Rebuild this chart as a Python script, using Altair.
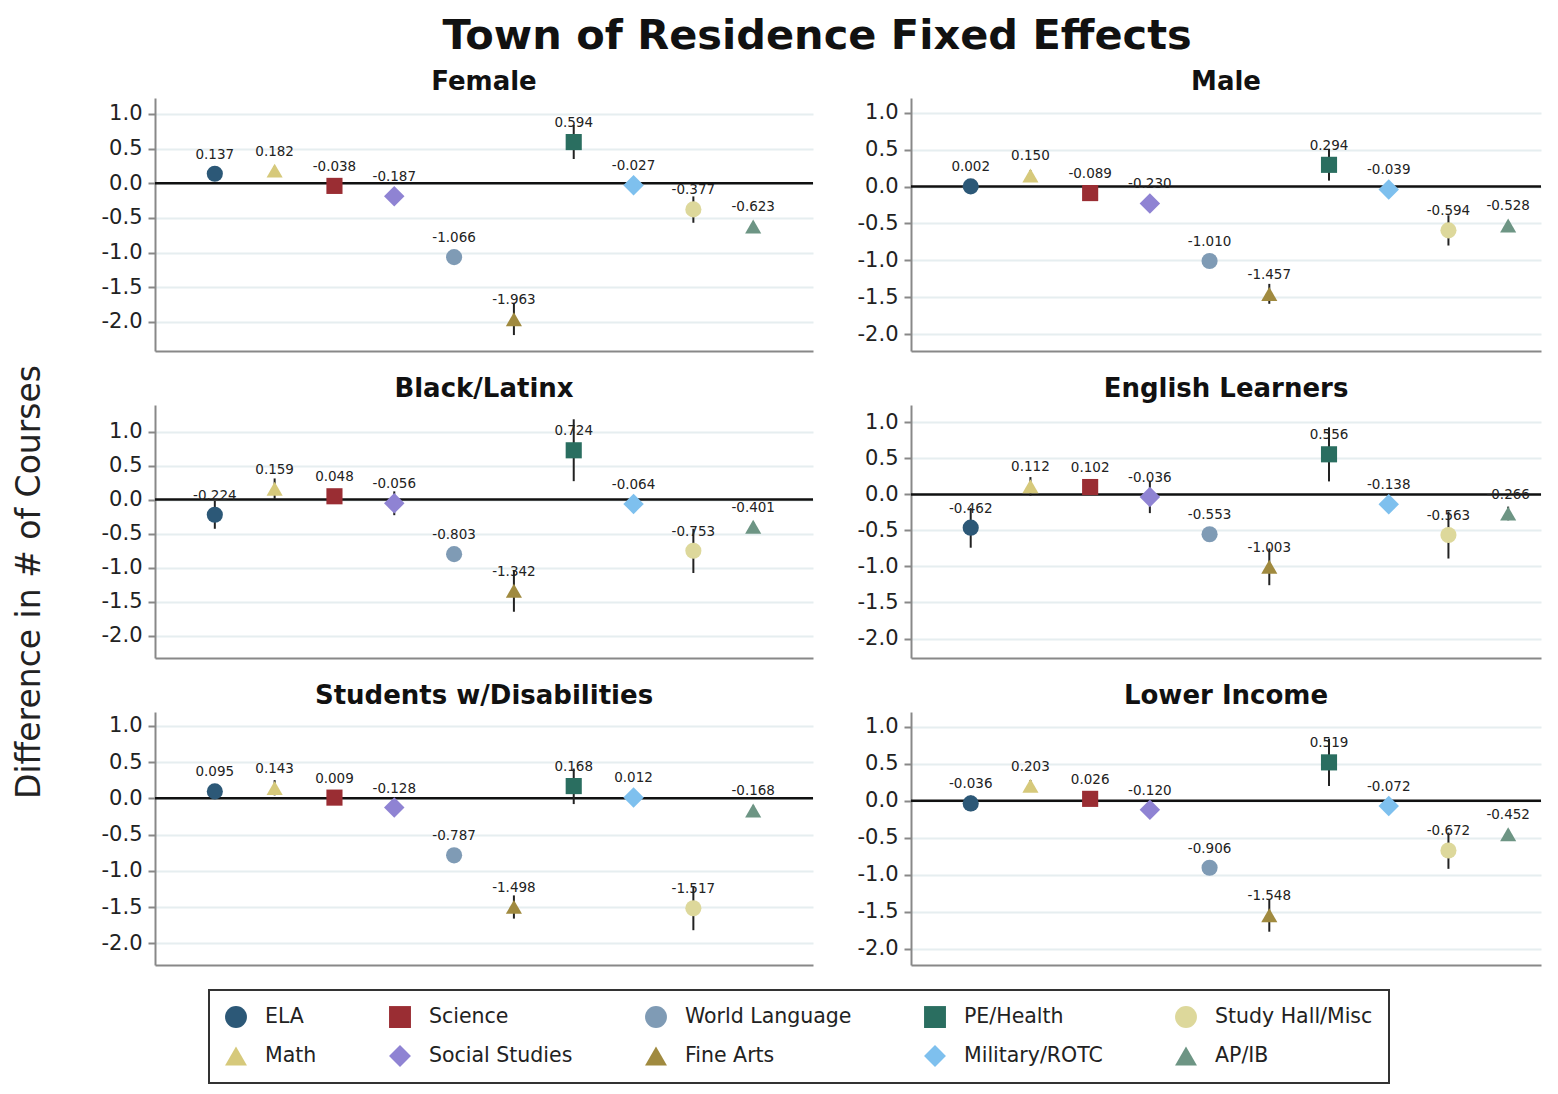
import altair as alt
import pandas as pd

FONT = "DejaVu Sans"

CATEGORIES = ["ELA", "Math", "Science", "Social Studies", "World Language",
              "Fine Arts", "PE/Health", "Military/ROTC", "Study Hall/Misc", "AP/IB"]
COLORS = ["#2c5877", "#d6c97b", "#9a2d33", "#8f83d3", "#7f9bb5",
          "#a08a3f", "#2a6e60", "#7ec0ee", "#ddd89b", "#6d9584"]
SHAPES = ["circle", "triangle-up", "square", "diamond", "circle",
          "triangle-up", "square", "diamond", "circle", "triangle-up"]

PANELS = ["Female", "Male", "Black/Latinx", "English Learners",
          "Students w/Disabilities", "Lower Income"]

FEMALE_EST = [0.137, 0.182, -0.038, -0.187, -1.066, -1.963, 0.594, -0.027, -0.377, -0.623]
FEMALE_LO = [0.07, 0.12, -0.10, -0.26, -1.13, -2.19, 0.35, -0.09, -0.57, -0.69]
FEMALE_HI = [0.20, 0.25, 0.02, -0.11, -1.00, -1.74, 0.84, 0.04, -0.19, -0.56]

MALE_EST = [0.002, 0.150, -0.089, -0.230, -1.010, -1.457, 0.294, -0.039, -0.594, -0.528]
MALE_LO = [-0.06, 0.08, -0.15, -0.30, -1.07, -1.59, 0.08, -0.10, -0.80, -0.59]
MALE_HI = [0.07, 0.22, -0.03, -0.16, -0.95, -1.32, 0.51, 0.02, -0.39, -0.47]

BL_EST = [-0.224, 0.159, 0.048, -0.056, -0.803, -1.342, 0.724, -0.064, -0.753, -0.401]
BL_LO = [-0.43, 0.01, -0.02, -0.23, -0.87, -1.65, 0.27, -0.13, -1.08, -0.47]
BL_HI = [-0.02, 0.31, 0.12, 0.12, -0.74, -1.04, 1.18, 0.00, -0.43, -0.33]

EL_EST = [-0.462, 0.112, 0.102, -0.036, -0.553, -1.003, 0.556, -0.138, -0.563, -0.266]
EL_LO = [-0.74, -0.02, 0.02, -0.26, -0.62, -1.26, 0.18, -0.21, -0.89, -0.36]
EL_HI = [-0.19, 0.24, 0.18, 0.19, -0.49, -0.75, 0.93, -0.07, -0.24, -0.17]

SWD_EST = [0.095, 0.143, 0.009, -0.128, -0.787, -1.498, 0.168, 0.012, -1.517, -0.168]
SWD_LO = [0.02, 0.04, -0.06, -0.20, -0.86, -1.66, -0.08, -0.05, -1.82, -0.24]
SWD_HI = [0.17, 0.25, 0.08, -0.06, -0.72, -1.34, 0.41, 0.08, -1.21, -0.10]

LI_EST = [-0.036, 0.203, 0.026, -0.120, -0.906, -1.548, 0.519, -0.072, -0.672, -0.452]
LI_LO = [-0.14, 0.13, -0.04, -0.23, -0.97, -1.77, 0.20, -0.14, -0.92, -0.52]
LI_HI = [0.07, 0.28, 0.09, -0.01, -0.84, -1.33, 0.84, -0.01, -0.43, -0.39]

PANEL_DATA = [
    (FEMALE_EST, FEMALE_LO, FEMALE_HI),
    (MALE_EST, MALE_LO, MALE_HI),
    (BL_EST, BL_LO, BL_HI),
    (EL_EST, EL_LO, EL_HI),
    (SWD_EST, SWD_LO, SWD_HI),
    (LI_EST, LI_LO, LI_HI),
]
Y_DOMAINS = [[-2.42, 1.23], [-2.23, 1.20], [-2.33, 1.39],
             [-2.27, 1.24], [-2.30, 1.19], [-2.22, 1.20]]
Y_TICKS = [-2.0, -1.5, -1.0, -0.5, 0.0, 0.5, 1.0]

TITLE = "Town of Residence Fixed Effects"
Y_TITLE = "Difference in # of Courses"

color_scale = alt.Scale(domain=CATEGORIES, range=COLORS)
shape_scale = alt.Scale(domain=CATEGORIES, range=SHAPES)
DIAMONDS = [c for c, s in zip(CATEGORIES, SHAPES) if s == "diamond"]

legend = alt.Legend(title=None, orient="none", legendX=194, legendY=892, columns=5,
                    symbolSize=480, labelFontSize=20.5, labelFont=FONT, labelColor="#222",
                    labelLimit=400, columnPadding=72, rowPadding=17, padding=16,
                    labelOffset=18, symbolStrokeWidth=0, strokeColor="#333")

H = 253


def panel(idx, width, xmax):
    est, lo, hi = PANEL_DATA[idx]
    df = pd.DataFrame({
        "cat": CATEGORIES,
        "pos": list(range(1, len(CATEGORIES) + 1)),
        "est": est,
        "lo": lo,
        "hi": hi,
        "lab": [f"{v:.3f}" for v in est],
    })
    xs = alt.Scale(domain=[0, xmax], nice=False, zero=False)
    ys = alt.Scale(domain=Y_DOMAINS[idx], nice=False, zero=False)
    x_enc = alt.X("pos:Q", scale=xs,
                  axis=alt.Axis(title=None, labels=False, ticks=False, grid=False,
                                domain=True, domainColor="#888", domainWidth=2))
    base = alt.Chart(df)
    zero = alt.Chart(pd.DataFrame({"z": [0.0]})).mark_rule(
        color="#111", strokeWidth=2.5).encode(
        y=alt.Y("z:Q", scale=ys,
                axis=alt.Axis(title=None, values=Y_TICKS,
                              labelExpr="replace(format(datum.value, '.1f'), '\u2212', '-')",
                              labelFont=FONT, labelFontSize=21, labelColor="#222",
                              labelPadding=6, tickSize=7, tickColor="#888", tickWidth=2,
                              domainColor="#888", domainWidth=2,
                              grid=True, gridColor="#e6eef0", gridWidth=2)))
    err = base.mark_rule(color="#222", strokeWidth=2).encode(
        x=x_enc, y=alt.Y("lo:Q", scale=ys), y2="hi:Q")
    enc = dict(
        x=x_enc,
        y=alt.Y("est:Q", scale=ys),
        color=alt.Color("cat:N", scale=color_scale, legend=legend),
        shape=alt.Shape("cat:N", scale=shape_scale, legend=legend),
    )
    pts = base.transform_filter(
        ~alt.FieldOneOfPredicate(field="cat", oneOf=DIAMONDS)
    ).mark_point(filled=True, size=260, opacity=1).encode(**enc)
    dia = base.transform_filter(
        alt.FieldOneOfPredicate(field="cat", oneOf=DIAMONDS)
    ).mark_point(filled=True, size=420, opacity=1).encode(**enc)
    txt = base.mark_text(font=FONT, fontSize=13.5, color="#222", dy=-19,
                         baseline="middle").encode(
        x=x_enc, y=alt.Y("est:Q", scale=ys), text="lab:N")
    return alt.layer(zero, err, pts, dia, txt).properties(
        width=width, height=H,
        title=alt.TitleParams(PANELS[idx], font=FONT, fontSize=26, fontWeight="bold",
                              color="#111", anchor="middle", offset=3),
    )


rows = []
for r in range(3):
    left = panel(2 * r, 658, 11)
    right = panel(2 * r + 1, 630, 10.55)
    rows.append(alt.hconcat(left, right, spacing=42))

grid = alt.vconcat(*rows, spacing=25)

ytitle = alt.Chart(alt.Data(values=[{"t": Y_TITLE}])).mark_text(
    angle=270, font=FONT, fontSize=33, color="#222", baseline="middle", align="center"
).encode(text="t:N", x=alt.value(15), y=alt.value(484)).properties(width=30, height=900)

chart = alt.hconcat(ytitle, grid, spacing=53).resolve_scale(
    color="shared", shape="shared"
).properties(
    title=alt.TitleParams(TITLE, font=FONT, fontSize=41.5, fontWeight="bold",
                          color="#111", anchor="middle", offset=12, dx=39),
    padding={"left": 5, "top": 7, "right": 0, "bottom": 0},
).configure_view(stroke=None).configure_legend(strokeWidth=2)

chart.save("out.html", embed_options={"renderer": "svg", "actions": False})
